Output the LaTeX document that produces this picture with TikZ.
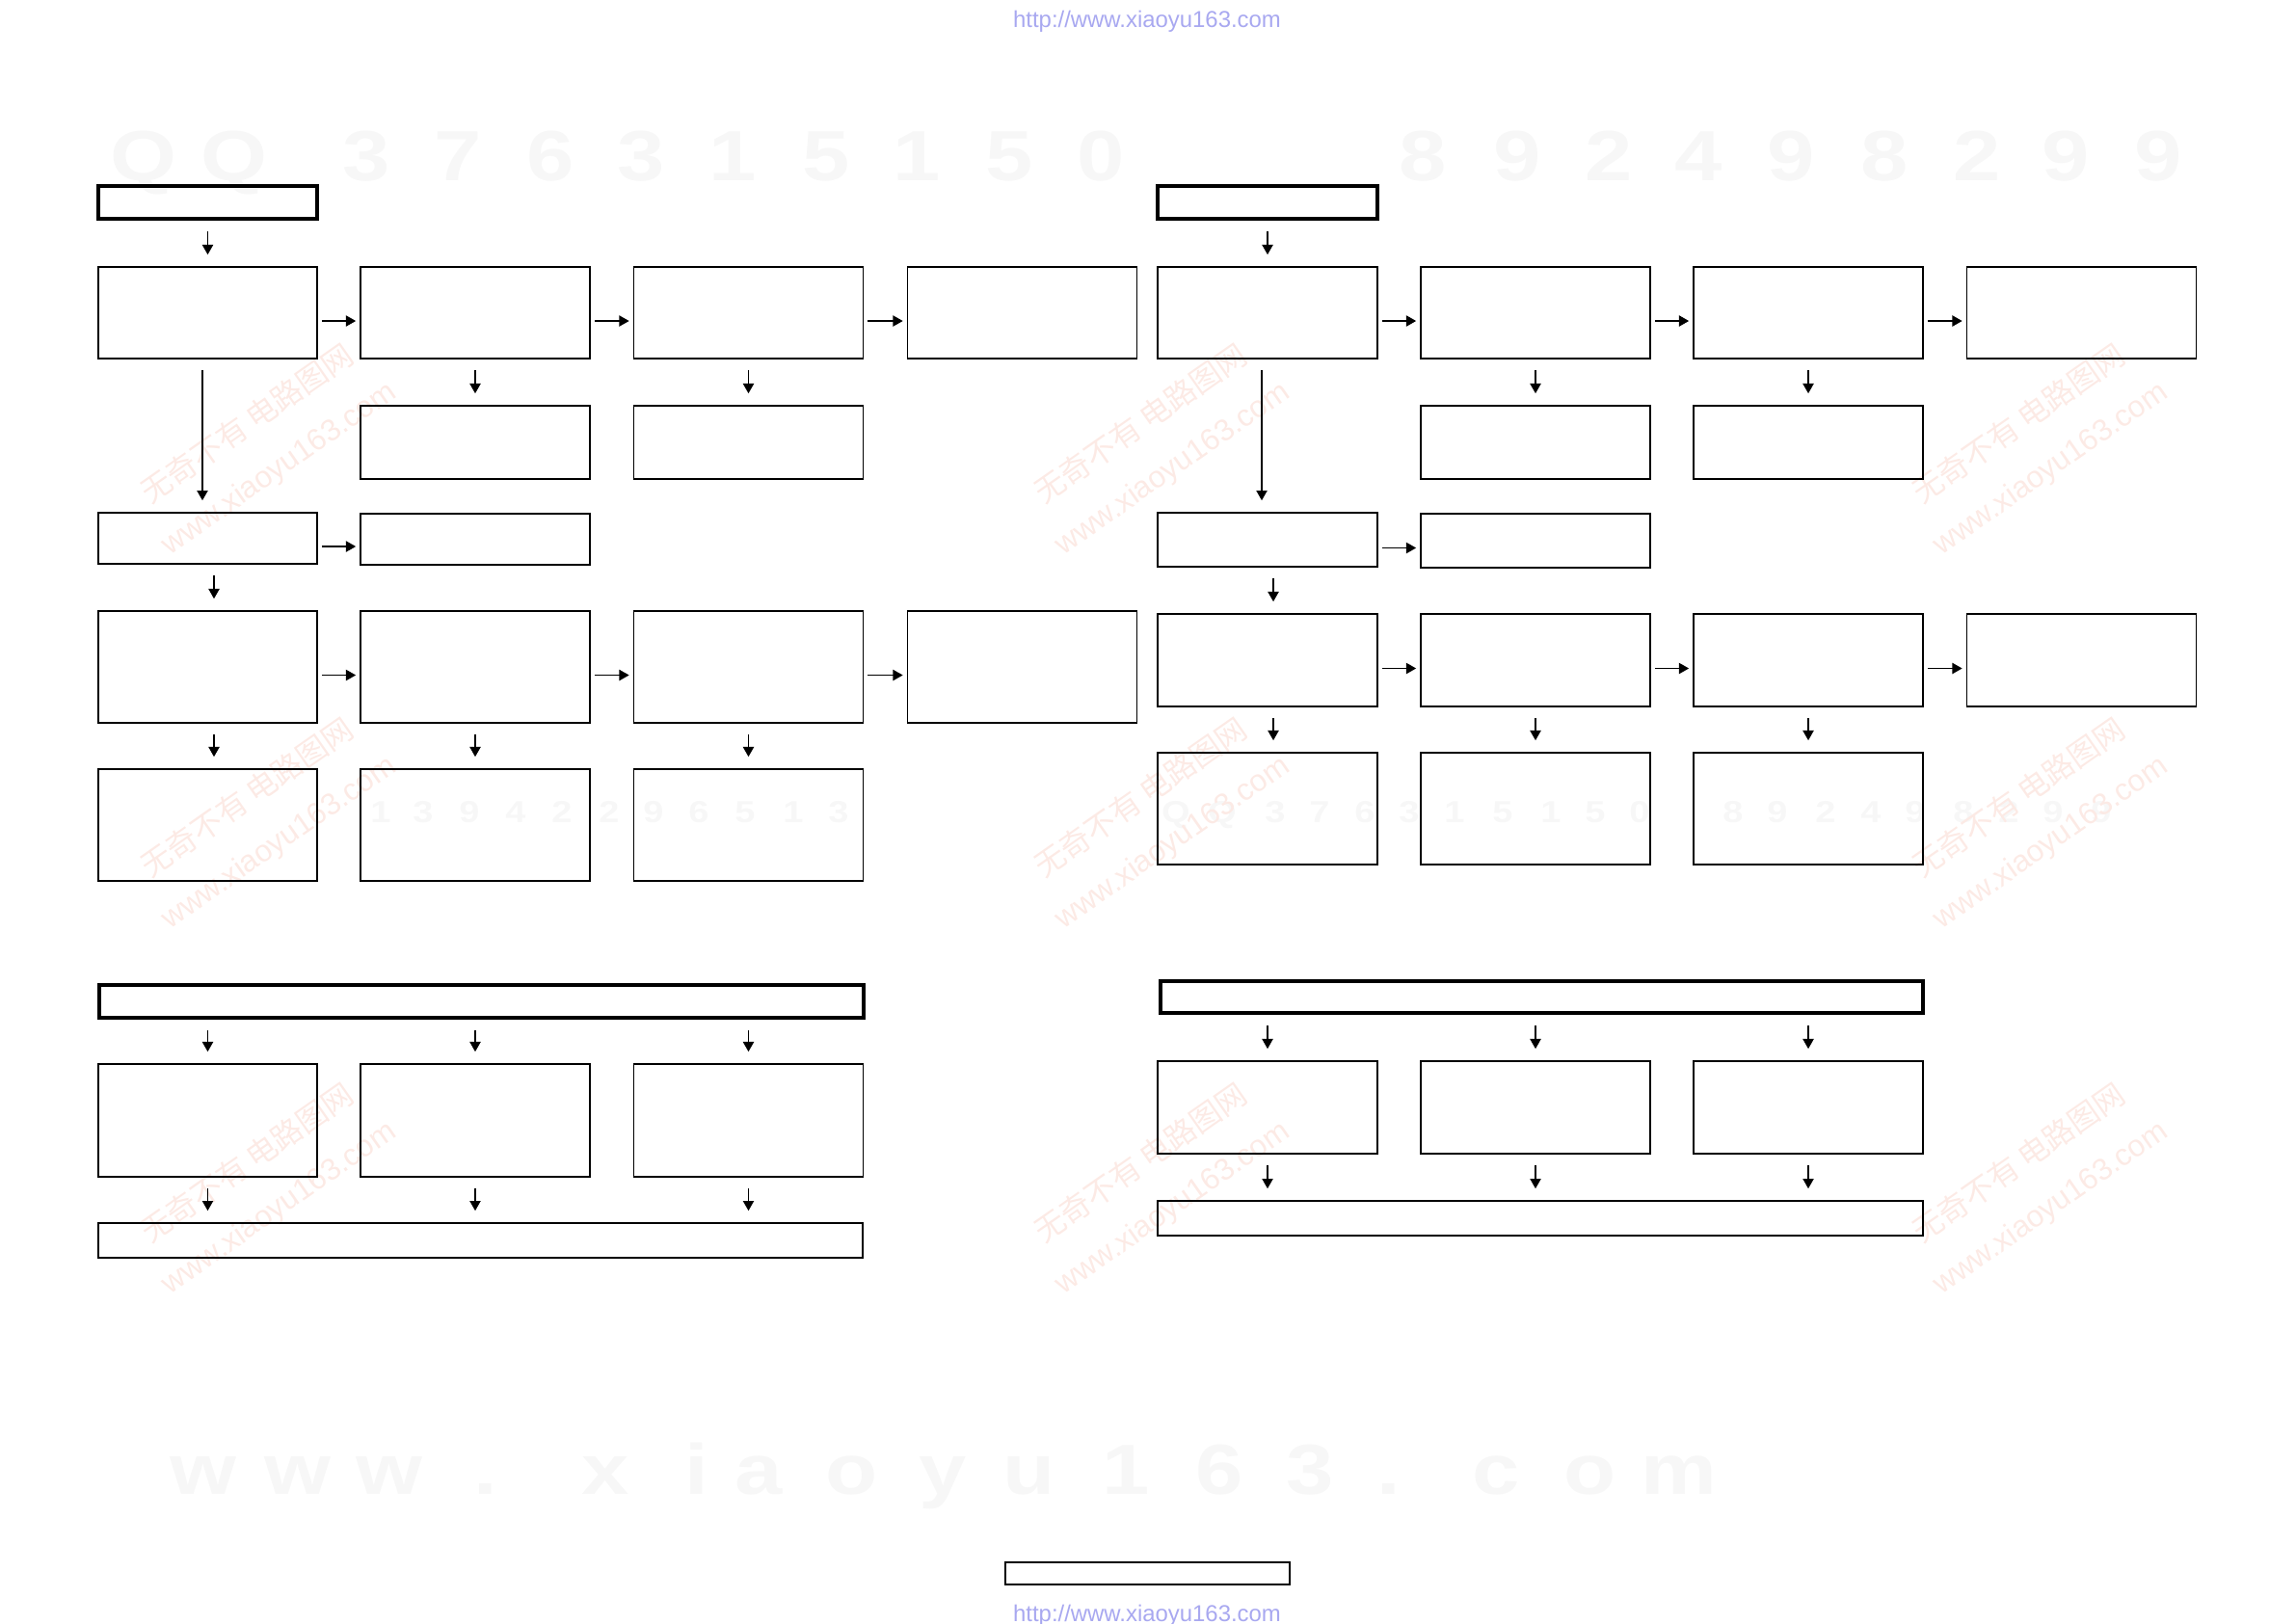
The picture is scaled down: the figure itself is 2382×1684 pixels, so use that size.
\documentclass[tikz,border=0pt]{standalone}
\usepackage{fontspec}
\setmainfont{Liberation Sans}
\newfontfamily\cjkfont{Noto Sans CJK SC}
\usetikzlibrary{arrows.meta}
\definecolor{urlblue}{RGB}{168,168,240}
\definecolor{wmgray}{RGB}{247,247,247}
\definecolor{wmred}{RGB}{252,234,229}

\begin{document}
\begin{tikzpicture}[
  x=0.01cm, y=-0.01cm,
  blk/.style={draw,line width=.45pt,inner sep=0pt},
  hdr/.style={draw,line width=1.1pt,inner sep=0pt,minimum height=.34cm},
  colA/.style={minimum width=2.27cm},
  col/.style={minimum width=2.38cm},
  arr/.style={-{Triangle[length=2.9pt,width=3.2pt]},line width=.35pt},
  hor/.style={arr,shorten <=.04cm,shorten >=.04cm},
  ver/.style={arr,shorten <=.11cm,shorten >=.12cm},
  url/.style={text=urlblue,inner sep=0pt,font=\fontsize{6.8}{8}\selectfont},
  bigmark/.style={text=wmgray,anchor=base,inner sep=0pt,font=\fontsize{21}{21}\selectfont\bfseries},
  midmark/.style={text=wmgray,anchor=base,inner sep=0pt,font=\fontsize{9}{9}\selectfont\bfseries},
  stamp/.style={text=wmred,rotate=35,align=center,inner sep=0pt,font=\fontsize{9}{15.6}\selectfont}
]
  \useasboundingbox (0,0) rectangle (2382,1684);

  % watermarks
  \node[url] (u1) at (1190,22) {http://www.xiaoyu163.com};
  \node[url] (u2) at (1190,1676) {http://www.xiaoyu163.com};
  \foreach \c/\px [count=\i] in {Q/149,Q/243,3/380,7/475,6/571,3/665,1/760,5/857,1/951,5/1047,0/1142,
      8/1476,9/1574,2/1669,4/1762,9/1858,8/1955,2/2051,9/2143,9/2239}
    \node[bigmark] (qq\i) at (\px,187) {\scalebox{1.2}[1]{\c}};
  \foreach \c/\px [count=\i] in {w/211,w/309,w/404,./504,x/628,i/723,a/787,o/884,y/978,u/1068,
      1/1168,6/1265,3/1359,./1441,c/1552,o/1650,m/1742}
    \node[bigmark] (ww\i) at (\px,1550) {\scalebox{1.2}[1]{\c}};
  \foreach \c/\px [count=\i] in {1/395,3/439,9/487,4/535,2/583,2/632,9/678,6/725,5/773,1/823,3/870,
      Q/1220,Q/1268,3/1323,7/1369,6/1416,3/1462,1/1509,5/1559,1/1609,5/1655,0/1701,
      8/1798,9/1844,2/1894,4/1941,9/1987,8/2037,2/2084,9/2130,9/2180}
    \node[midmark] (mm\i) at (\px,853) {\scalebox{1.2}[1]{\c}};
  \foreach \sx in {273,1200,2111}
    \foreach \sy in {463,851,1230}
      \node[stamp] (st\sx-\sy) at (\sx,\sy) {{\cjkfont 无奇不有\ 电路图网}\\www.xiaoyu163.com};

  % left half
  \node[hdr,colA] (lh) at (215.5,210) {};
  \node[blk,colA,minimum height=.95cm] (la1) at (215.5,324.5) {};
  \node[blk,col,minimum height=.95cm] (lb1) at (493,324.5) {};
  \node[blk,col,minimum height=.95cm] (lc1) at (776.5,324.5) {};
  \node[blk,col,minimum height=.95cm] (ld1) at (1060.5,324.5) {};
  \node[blk,col,minimum height=.76cm] (lb2) at (493,459) {};
  \node[blk,col,minimum height=.76cm] (lc2) at (776.5,459) {};
  \node[blk,colA,minimum height=.53cm] (la3) at (215.5,558.5) {};
  \node[blk,col,minimum height=.53cm] (lb3) at (493,559.5) {};
  \node[blk,colA,minimum height=1.16cm] (la4) at (215.5,692) {};
  \node[blk,col,minimum height=1.16cm] (lb4) at (493,692) {};
  \node[blk,col,minimum height=1.16cm] (lc4) at (776.5,692) {};
  \node[blk,col,minimum height=1.16cm] (ld4) at (1060.5,692) {};
  \node[blk,colA,minimum height=1.16cm] (la5) at (215.5,856) {};
  \node[blk,col,minimum height=1.16cm] (lb5) at (493,856) {};
  \node[blk,col,minimum height=1.16cm] (lc5) at (776.5,856) {};

  \draw[ver] (lh) -- (la1);
  \foreach \s/\t in {la1/lb1,lb1/lc1,lc1/ld1,la3/lb3,la4/lb4,lb4/lc4,lc4/ld4}
    \draw[hor] ([yshift=-.085cm]\s.east) -- ([yshift=-.085cm]\s.east -| \t.west);
  \draw[ver] (lb1) -- (lb2);
  \draw[ver] (lc1) -- (lc2);
  \draw[ver] ([xshift=-.055cm]la1.south) -- ([xshift=-.055cm]la3.north);
  \draw[ver] ([xshift=.065cm]la3.south) -- ([xshift=.065cm]la4.north);
  \draw[ver] ([xshift=.065cm]la4.south) -- ([xshift=.065cm]la5.north);
  \draw[ver] (lb4) -- (lb5);
  \draw[ver] (lc4) -- (lc5);

  \node[hdr,minimum width=7.93cm] (lh2) at (499.5,1039) {};
  \node[blk,colA,minimum height=1.17cm] (lp1) at (215.5,1162.5) {};
  \node[blk,col,minimum height=1.17cm] (lp2) at (493,1162.5) {};
  \node[blk,col,minimum height=1.17cm] (lp3) at (776.5,1162.5) {};
  \node[blk,minimum width=7.93cm,minimum height=.36cm] (lw) at (498.5,1287) {};
  \foreach \p in {lp1,lp2,lp3} {
    \draw[ver] (\p.north |- lh2.south) -- (\p.north);
    \draw[ver] (\p.south) -- (\p.south |- lw.north);
  }

  % right half
  \node[hdr,minimum width=2.28cm] (rh) at (1315,210) {};
  \node[blk,minimum width=2.28cm,minimum height=.95cm] (ra1) at (1315,324.5) {};
  \node[blk,col,minimum height=.95cm] (rb1) at (1593,324.5) {};
  \node[blk,col,minimum height=.95cm] (rc1) at (1876,324.5) {};
  \node[blk,col,minimum height=.95cm] (rd1) at (2159.5,324.5) {};
  \node[blk,col,minimum height=.76cm] (rb2) at (1593,459) {};
  \node[blk,col,minimum height=.76cm] (rc2) at (1876,459) {};
  \node[blk,minimum width=2.28cm,minimum height=.56cm] (ra3) at (1315,560) {};
  \node[blk,col,minimum height=.56cm] (rb3) at (1593,561) {};
  \node[blk,minimum width=2.28cm,minimum height=.96cm] (ra4) at (1315,685) {};
  \node[blk,col,minimum height=.96cm] (rb4) at (1593,685) {};
  \node[blk,col,minimum height=.96cm] (rc4) at (1876,685) {};
  \node[blk,col,minimum height=.96cm] (rd4) at (2159.5,685) {};
  \node[blk,minimum width=2.28cm,minimum height=1.16cm] (ra5) at (1315,839) {};
  \node[blk,col,minimum height=1.16cm] (rb5) at (1593,839) {};
  \node[blk,col,minimum height=1.16cm] (rc5) at (1876,839) {};

  \draw[ver] (rh) -- (ra1);
  \foreach \s/\t in {ra1/rb1,rb1/rc1,rc1/rd1,ra3/rb3,ra4/rb4,rb4/rc4,rc4/rd4}
    \draw[hor] ([yshift=-.085cm]\s.east) -- ([yshift=-.085cm]\s.east -| \t.west);
  \draw[ver] (rb1) -- (rb2);
  \draw[ver] (rc1) -- (rc2);
  \draw[ver] ([xshift=-.06cm]ra1.south) -- ([xshift=-.06cm]ra3.north);
  \draw[ver] ([xshift=.06cm]ra3.south) -- ([xshift=.06cm]ra4.north);
  \draw[ver] ([xshift=.06cm]ra4.south) -- ([xshift=.06cm]ra5.north);
  \draw[ver] (rb4) -- (rb5);
  \draw[ver] (rc4) -- (rc5);

  \node[hdr,minimum width=7.91cm,minimum height=.33cm] (rh2) at (1599.5,1034.5) {};
  \node[blk,minimum width=2.28cm,minimum height=.96cm] (rp1) at (1315,1149) {};
  \node[blk,col,minimum height=.96cm] (rp2) at (1593,1149) {};
  \node[blk,col,minimum height=.96cm] (rp3) at (1876,1149) {};
  \node[blk,minimum width=7.94cm,minimum height=.36cm] (rw) at (1598,1264) {};
  \foreach \p in {rp1,rp2,rp3} {
    \draw[ver] (\p.north |- rh2.south) -- (\p.north);
    \draw[ver] (\p.south) -- (\p.south |- rw.north);
  }

  % page box
  \node[blk,line width=.55pt,minimum width=2.95cm,minimum height=.23cm] (pg) at (1190.5,1632.5) {};
\end{tikzpicture}
\end{document}
